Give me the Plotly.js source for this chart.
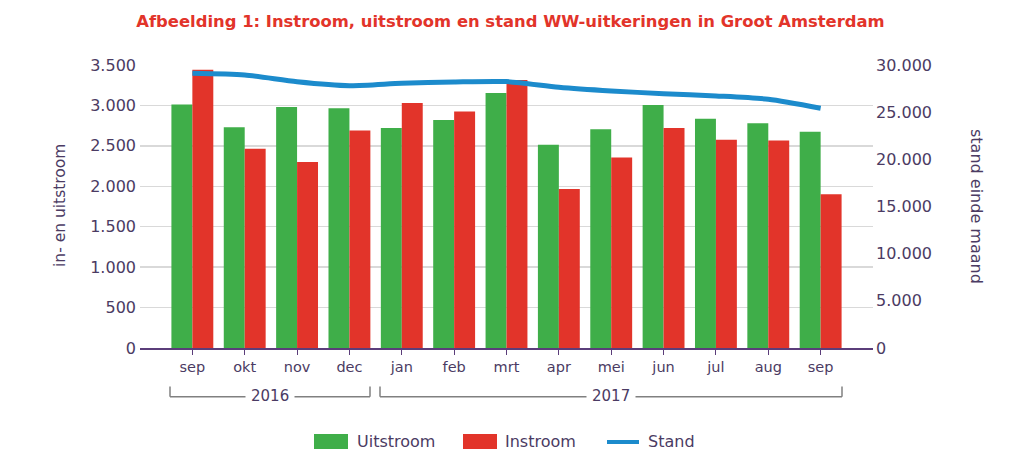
<!DOCTYPE html>
<html>
<head>
<meta charset="utf-8">
<script src="https://cdn.plot.ly/plotly-3.0.1.min.js"></script>
<style>
html,body{margin:0;padding:0;background:#fff;}
#chart{width:1023px;height:474px;}
</style>
</head>
<body>
<div id="chart"></div>
<script>
// ---- data ----
var categories = ['2016-09','2016-10','2016-11','2016-12','2017-01','2017-02','2017-03','2017-04','2017-05','2017-06','2017-07','2017-08','2017-09'];
var monthLabels = ['sep','okt','nov','dec','jan','feb','mrt','apr','mei','jun','jul','aug','sep'];
var uitstroom = [3010, 2730, 2980, 2965, 2720, 2820, 3155, 2515, 2705, 3005, 2835, 2780, 2675];
var instroom  = [3440, 2465, 2300, 2690, 3030, 2925, 3315, 1965, 2355, 2720, 2575, 2565, 1900];
var stand     = [29120, 28940, 28230, 27810, 28060, 28200, 28240, 27640, 27250, 26960, 26720, 26370, 25420];
var years = ['2016', '2017'];
var seriesNames = ['Uitstroom', 'Instroom', 'Stand'];

// ---- style ----
var FONT = 'DejaVu Sans';
var TXT = '#4b3b63';
var GREEN = '#3fae49';
var RED = '#e2342a';
var BLUE = '#1c8bcc';
var AXIS = '#5b3d7a';

// pixel helpers for the plot area (l=140, r=873, t=65, b=348)
function px(x){ return (x - 140) / 733; }
function py(y){ return (348 - y) / 283; }

var traces = [
  {type:'bar', name: seriesNames[0], x: categories, y: uitstroom, marker:{color: GREEN}, hoverinfo:'y'},
  {type:'bar', name: seriesNames[1], x: categories, y: instroom, marker:{color: RED}, hoverinfo:'y'},
  {type:'scatter', mode:'lines', name: seriesNames[2], x: categories, y: stand, yaxis:'y2',
   line:{color: BLUE, width: 5, shape:'spline', smoothing: 0.7}}
];

var shapes = [];
function seg(x0,y0,x1,y1,color,w){
  shapes.push({type:'line', xref:'paper', yref:'paper', x0:px(x0), y0:py(y0), x1:px(x1), y1:py(y1),
    line:{color:color, width:w}});
}
// year brackets
var BR = '#808080';
seg(170, 386.5, 170, 396.7, BR, 1.5);
seg(170, 396.7, 370, 396.7, BR, 1.5);
seg(370, 386.5, 370, 396.7, BR, 1.5);
seg(380, 386.5, 380, 396.7, BR, 1.5);
seg(380, 396.7, 842, 396.7, BR, 1.5);
seg(842, 386.5, 842, 396.7, BR, 1.5);
// legend swatches
shapes.push({type:'rect', xref:'paper', yref:'paper', x0:px(314), x1:px(348), y0:py(434), y1:py(449), fillcolor:GREEN, line:{width:0}});
shapes.push({type:'rect', xref:'paper', yref:'paper', x0:px(463), x1:px(497), y0:py(434), y1:py(449), fillcolor:RED, line:{width:0}});
seg(607, 442, 639, 442, BLUE, 4);

var annotations = [
  {text:'in- en uitstroom', xref:'paper', yref:'paper', x:px(60), y:py(206), textangle:-90, showarrow:false,
   font:{family:FONT, size:15.5, color:TXT}, xanchor:'center', yanchor:'middle'},
  {text:'stand einde maand', xref:'paper', yref:'paper', x:px(977), y:py(206), textangle:90, showarrow:false,
   font:{family:FONT, size:16, color:TXT}, xanchor:'center', yanchor:'middle'},
  {text: years[0], xref:'paper', yref:'paper', x:px(270), y:py(396.5), showarrow:false, bgcolor:'#ffffff', borderpad:5,
   font:{family:FONT, size:15, color:TXT}, xanchor:'center', yanchor:'middle'},
  {text: years[1], xref:'paper', yref:'paper', x:px(611), y:py(396.5), showarrow:false, bgcolor:'#ffffff', borderpad:5,
   font:{family:FONT, size:15, color:TXT}, xanchor:'center', yanchor:'middle'},
  {text: seriesNames[0], xref:'paper', yref:'paper', x:px(355), y:py(441.5), showarrow:false,
   font:{family:FONT, size:16, color:TXT}, xanchor:'left', yanchor:'middle'},
  {text: seriesNames[1], xref:'paper', yref:'paper', x:px(503), y:py(441.5), showarrow:false,
   font:{family:FONT, size:16, color:TXT}, xanchor:'left', yanchor:'middle'},
  {text: seriesNames[2], xref:'paper', yref:'paper', x:px(646), y:py(441.5), showarrow:false,
   font:{family:FONT, size:16, color:TXT}, xanchor:'left', yanchor:'middle'}
];

var layout = {
  width:1023, height:474,
  margin:{l:140, r:150, t:65, b:126, pad:0},
  paper_bgcolor:'#ffffff', plot_bgcolor:'#ffffff',
  separators:',.',
  font:{family:FONT, color:TXT, size:16},
  title:{text:'Afbeelding 1: Instroom, uitstroom en stand WW-uitkeringen in Groot Amsterdam',
    font:{family:FONT, size:16.4, color:'#e2342a', weight:'bold'},
    x:0.499, xanchor:'center', y:1-21/474, yanchor:'middle', xref:'container', yref:'container'},
  showlegend:false,
  barmode:'group', bargap:0.2, bargroupgap:0,
  xaxis:{type:'category', categoryorder:'array', categoryarray:categories,
    tickmode:'array', tickvals:categories, ticktext:monthLabels,
    range:[-1, 13], autorange:false,
    showline:true, linecolor:AXIS, linewidth:2,
    ticks:'outside', ticklen:5, tickcolor:AXIS, tickwidth:1,
    showgrid:false, zeroline:false,
    tickfont:{family:FONT, size:14.5, color:TXT}},
  yaxis:{range:[0,3500], autorange:false, dtick:500, tick0:0, tickformat:',d',
    showgrid:true, gridcolor:'#d9d9d9', gridwidth:1.5,
    zeroline:false, showline:false, ticks:'', ticklabelstandoff:3,
    tickfont:{family:FONT, size:16, color:TXT}},
  yaxis2:{range:[0,30000], autorange:false, dtick:5000, tick0:0, tickformat:',d',
    overlaying:'y', side:'right', showgrid:false, zeroline:false, showline:false, ticks:'', ticklabelstandoff:2,
    tickfont:{family:FONT, size:16, color:TXT}},
  shapes: shapes,
  annotations: annotations
};

Plotly.newPlot('chart', traces, layout, {displayModeBar:false, staticPlot:true});
</script>
</body>
</html>
